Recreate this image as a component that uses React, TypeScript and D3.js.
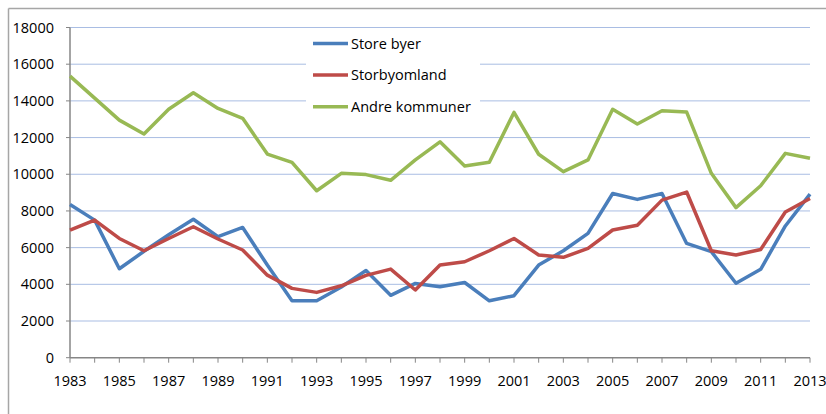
import React from "react";
import * as d3 from "d3";

const years: number[] = [1983,1984,1985,1986,1987,1988,1989,1990,1991,1992,1993,1994,1995,1996,1997,1998,1999,2000,2001,2002,2003,2004,2005,2006,2007,2008,2009,2010,2011,2012,2013];
const storeByer: number[] = [8350,7500,4850,5800,6700,7550,6600,7100,5050,3100,3100,3850,4750,3400,4050,3870,4100,3100,3380,5050,5830,6780,8950,8630,8950,6230,5780,4060,4820,7180,8920];
const storbyomland: number[] = [6950,7500,6500,5830,6500,7140,6470,5870,4500,3780,3560,3920,4490,4830,3690,5050,5230,5830,6500,5600,5470,5960,6960,7220,8590,9030,5830,5600,5900,7940,8680];
const andreKommuner: number[] = [15350,14150,12950,12190,13540,14440,13590,13050,11100,10650,9100,10050,9980,9670,10780,11770,10450,10650,13370,11090,10140,10780,13540,12740,13460,13390,10050,8180,9370,11140,10870];
const yTicks: number[] = [0,2000,4000,6000,8000,10000,12000,14000,16000,18000];
const seriesNames: string[] = ["Store byer","Storbyomland","Andre kommuner"];
const seriesColors: string[] = ["#4a7ebb","#be4b48","#98b954"];

const W = 826, H = 414;
const left = 70, right = 810, top = 27.5, bottom = 357.7;
const font = "'Open Sans', sans-serif";

export default function App() {
  const x = d3.scaleLinear().domain([1983, 2013]).range([left, right]);
  const y = d3.scaleLinear().domain([0, 18000]).range([bottom, top]);
  const line = d3.line<number>().x((_, i) => x(years[i])).y((d) => y(d));
  const series = [storeByer, storbyomland, andreKommuner];
  const xLabelYears = years.filter((yr) => (yr - 1983) % 2 === 0);

  return (
    <svg width={W} height={H} style={{ position: "absolute", left: 0, top: 0, background: "#fff" }}>
      <rect x={0} y={0} width={W} height={H} fill="#fff" />
      {/* outer frame */}
      <line x1={8.5} y1={8.5} x2={W} y2={8.5} stroke="#a6a6a6" strokeWidth={1.5} />
      <line x1={8.5} y1={8.5} x2={8.5} y2={H} stroke="#a6a6a6" strokeWidth={1.5} />
      {/* gridlines */}
      {yTicks.filter((t) => t > 0).map((t) => (
        <line key={t} x1={left} x2={right} y1={y(t)} y2={y(t)} stroke="#a9bde3" strokeWidth={1} />
      ))}
      {/* legend box */}
      <rect x={306} y={32} width={174} height={88} fill="#fff" />
      {/* y axis */}
      <line x1={left} x2={left} y1={top} y2={bottom} stroke="#868686" strokeWidth={1.5} />
      {yTicks.map((t) => (
        <g key={t}>
          <line x1={left - 4} x2={left} y1={y(t)} y2={y(t)} stroke="#868686" strokeWidth={1} />
          <text x={54} y={y(t)} dy="0.35em" textAnchor="end" fontFamily={font} fontSize={14.5} fill="#000">{t}</text>
        </g>
      ))}
      {/* x axis */}
      <line x1={left} x2={right} y1={bottom} y2={bottom} stroke="#868686" strokeWidth={1.5} />
      {years.map((yr) => (
        <line key={yr} x1={x(yr)} x2={x(yr)} y1={bottom} y2={bottom + 5} stroke="#868686" strokeWidth={1} />
      ))}
      {xLabelYears.map((yr) => (
        <text key={yr} x={x(yr)} y={381} dy="0.35em" textAnchor="middle" fontFamily={font} fontSize={14.5} fill="#000">{yr}</text>
      ))}
      {/* series */}
      {series.map((s, i) => (
        <path key={i} d={line(s) || ""} fill="none" stroke={seriesColors[i]} strokeWidth={3.5} strokeLinejoin="round" />
      ))}
      {/* legend */}
      {seriesNames.map((n, i) => (
        <g key={n}>
          <line x1={313} x2={348} y1={43.5 + i * 31.6} y2={43.5 + i * 31.6} stroke={seriesColors[i]} strokeWidth={3.5} />
          <text x={351} y={43.5 + i * 31.6} dy="0.35em" fontFamily={font} fontSize={14.5} fill="#000">{n}</text>
        </g>
      ))}
    </svg>
  );
}
